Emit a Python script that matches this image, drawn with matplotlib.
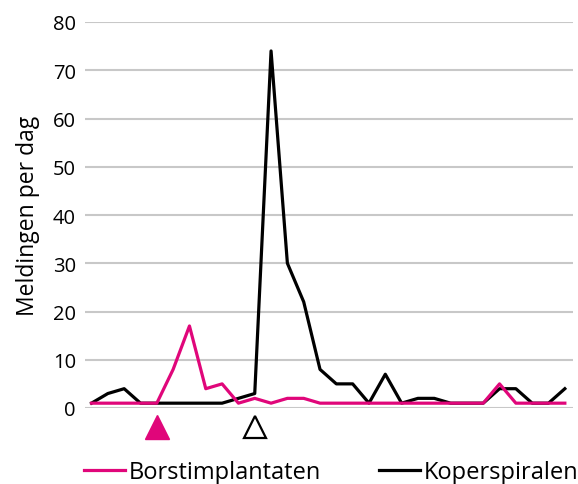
import numpy as np
import matplotlib
matplotlib.use('Agg')
import matplotlib.pyplot as plt

# Data
days = np.arange(30)
borst = [1, 1, 1, 1, 1, 8, 17, 4, 5, 1,
         2, 1, 2, 2, 1, 1, 1, 1, 1, 1,
         1, 1, 1, 1, 1, 5, 1, 1, 1, 1]
koper = [1, 3, 4, 1, 1, 1, 1, 1, 1, 2,
         3, 74, 30, 22, 8, 5, 5, 1, 7, 1,
         2, 2, 1, 1, 1, 4, 4, 1, 1, 4]
event_borst = 4
event_koper = 10
yticks = [0, 10, 20, 30, 40, 50, 60, 70, 80]

PINK = '#E0067A'
GRID = '#c8c8c8'

plt.rcParams['font.family'] = ['Open Sans', 'DejaVu Sans']

fig = plt.figure(figsize=(5.78, 4.85), dpi=100)
ax = fig.add_axes([85/578, 1 - 409/485, 488/578, 386/485])

for y in yticks:
    ax.axhline(y, color=GRID, lw=1.5, zorder=0)

ax.plot(days, koper, color='black', lw=2.3, label='Koperspiralen', zorder=3)
ax.plot(days, borst, color=PINK, lw=2.3, label='Borstimplantaten', zorder=4)

# event markers below the axis
ax.plot([event_borst], [-4.0], marker='^', ms=17, color=PINK, mec=PINK,
        clip_on=False, ls='none')
ax.plot([event_koper], [-4.0], marker='^', ms=16, mfc='white', mec='black',
        mew=1.6, clip_on=False, ls='none')

ax.set_xlim(-0.4, 29.5)
ax.set_ylim(0, 80)
ax.set_yticks(yticks)
ax.set_xticks([])
for s in ax.spines.values():
    s.set_visible(False)
ax.tick_params(axis='y', length=0, labelsize=14.5, pad=6.5)
ax.set_ylabel('Meldingen per dag', fontsize=16.5, labelpad=9)

h, l = ax.get_legend_handles_labels()
fig.legend(h[::-1], l[::-1], loc='center left', bbox_to_anchor=(84/578, 1 - 473/485),
           ncol=2, frameon=False, fontsize=17, handlelength=1.74, handletextpad=0.15,
           columnspacing=2.45, borderaxespad=0, borderpad=0)

fig.savefig('out.png', dpi=100)
